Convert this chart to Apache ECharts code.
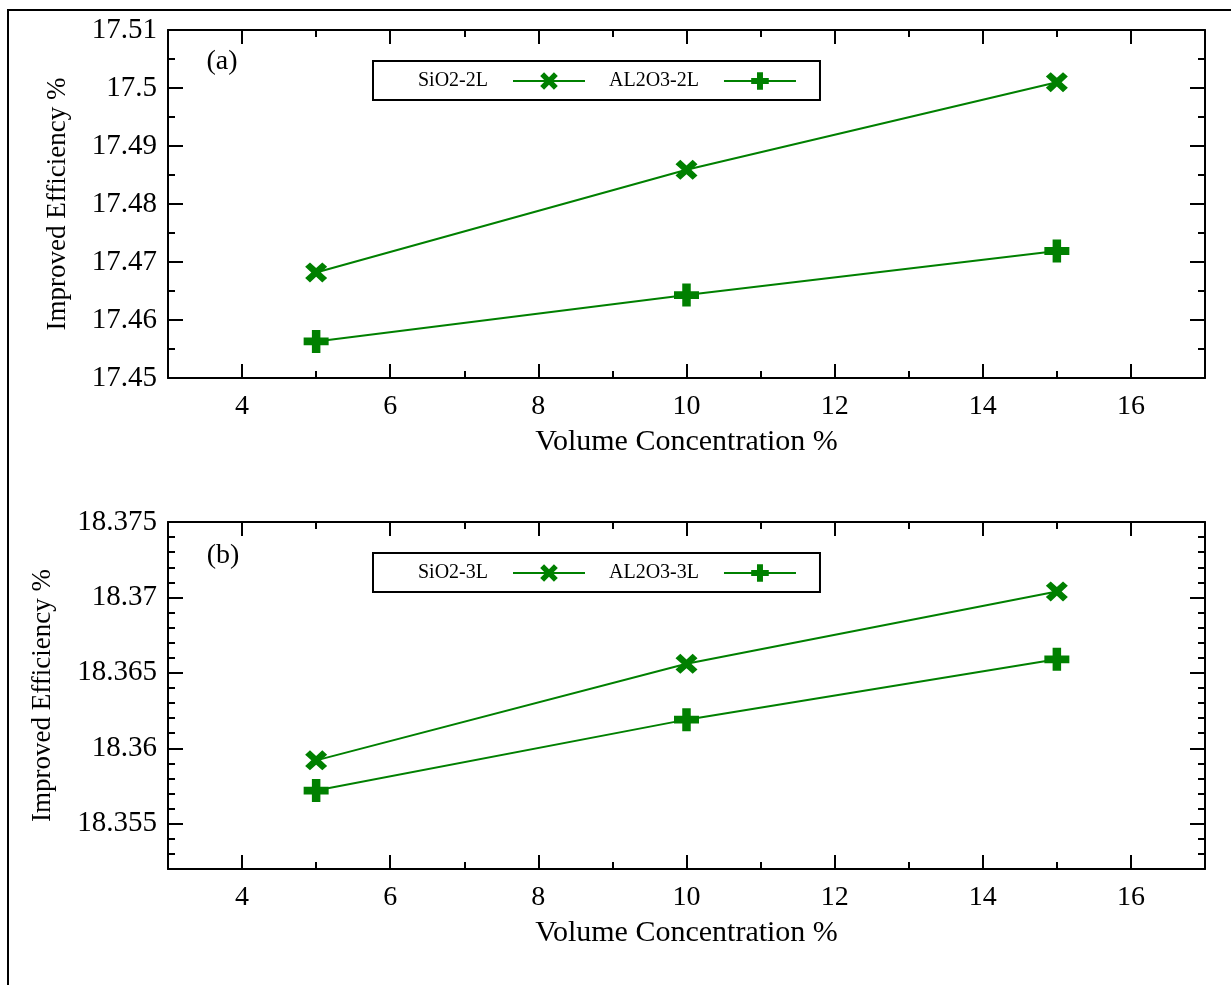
<!DOCTYPE html>
<html>
<head>
<meta charset="utf-8">
<script src="https://cdn.jsdelivr.net/npm/echarts@6/dist/echarts.min.js"></script>
<style>
  html, body { margin: 0; padding: 0; background: #fff; }
  #chart { width: 1231px; height: 985px; }
</style>
</head>
<body>
<div id="chart"></div>
<script>
// Volume concentration (%) of the nanofluid
const concentration = [5, 10, 15];

// Panel (a): two-layer configuration, improved efficiency (%)
const sio2TwoLayer = [17.4682, 17.4859, 17.5010];
const al2o3TwoLayer = [17.4563, 17.4643, 17.4719];

// Panel (b): three-layer configuration, improved efficiency (%)
const sio2ThreeLayer = [18.3592, 18.3656, 18.3704];
const al2o3ThreeLayer = [18.3572, 18.3619, 18.3659];

// Tick labels
const xTickLabels = [4, 6, 8, 10, 12, 14, 16];
const yTickLabelsB = [18.355, 18.36, 18.365, 18.37, 18.375];

const seriesNamesA = ['SiO2-2L', 'AL2O3-2L'];
const seriesNamesB = ['SiO2-3L', 'AL2O3-3L'];

const GREEN = '#008000';
const FONT = '"Liberation Serif", "Times New Roman", serif';
const CROSS = 'path://M0,22L22,0L50,28L78,0L100,22L72,50L100,78L78,100L50,72L22,100L0,78L28,50Z';
const PLUS = 'path://M33,0H67V33H100V67H67V100H33V67H0V33H33Z';

const fmt = v => String(parseFloat(Number(v).toFixed(4)));
const black = { color: '#000', width: 2 };

function xAxes(grid) {
  const base = { type: 'value', gridIndex: grid, min: 3, max: 17, splitLine: { show: false } };
  return [
    Object.assign({}, base, {
      position: 'bottom',
      axisLine: { show: true, onZero: false, lineStyle: black },
      axisTick: { show: true, inside: true, length: 14, customValues: xTickLabels, lineStyle: black },
      axisLabel: { customValues: xTickLabels, color: '#000', fontFamily: FONT, fontSize: 28, margin: 15, formatter: fmt },
      name: 'Volume Concentration %', nameLocation: 'middle', nameGap: 49,
      nameTextStyle: { color: '#000', fontFamily: FONT, fontSize: 30 }
    }),
    Object.assign({}, base, {
      position: 'bottom', interval: 1,
      axisLine: { show: false, onZero: false },
      axisTick: { show: true, inside: true, length: 7, lineStyle: black },
      axisLabel: { show: false }
    }),
    Object.assign({}, base, {
      position: 'top',
      axisLine: { show: true, onZero: false, lineStyle: black },
      axisTick: { show: true, inside: true, length: 14, customValues: xTickLabels, lineStyle: black },
      axisLabel: { show: false }
    }),
    Object.assign({}, base, {
      position: 'top', interval: 1,
      axisLine: { show: false, onZero: false },
      axisTick: { show: true, inside: true, length: 7, lineStyle: black },
      axisLabel: { show: false }
    })
  ];
}

const yName = {
  name: 'Improved Efficiency %', nameLocation: 'middle',
  nameTextStyle: { color: '#000', fontFamily: FONT, fontSize: 27 }
};
const yLabel = { color: '#000', fontFamily: FONT, fontSize: 29, margin: 11, formatter: fmt };

// Panel (a) y axes: 17.45 – 17.51, major every 0.01 with one minor tick between
const yAxesA = [
  Object.assign({
    type: 'value', gridIndex: 0, position: 'left', min: 17.45, max: 17.51, interval: 0.01,
    axisLine: { show: true, onZero: false, lineStyle: black },
    axisTick: { show: true, inside: true, length: 15, lineStyle: black },
    minorTick: { show: true, splitNumber: 2, length: 7, lineStyle: black },
    axisLabel: yLabel, splitLine: { show: false }, nameGap: 97
  }, yName),
  {
    type: 'value', gridIndex: 0, position: 'right', min: 17.45, max: 17.51, interval: 0.01,
    axisLine: { show: true, onZero: false, lineStyle: black },
    axisTick: { show: true, inside: true, length: 15, lineStyle: black },
    minorTick: { show: true, splitNumber: 2, length: 7, lineStyle: black },
    axisLabel: { show: false }, splitLine: { show: false }
  }
];

// Panel (b) y axes: 18.352 – 18.375, labels every 0.005, minor ticks every 0.001
function yAxesB() {
  const base = { type: 'value', gridIndex: 1, min: 18.352, max: 18.375, splitLine: { show: false } };
  const list = [];
  ['left', 'right'].forEach(pos => {
    list.push(Object.assign({}, base, {
      position: pos,
      axisLine: { show: true, onZero: false, lineStyle: black },
      axisTick: { show: true, inside: true, length: 15, customValues: yTickLabelsB, lineStyle: black },
      axisLabel: pos === 'left' ? Object.assign({ customValues: yTickLabelsB }, yLabel) : { show: false }
    }, pos === 'left' ? Object.assign({ nameGap: 112 }, yName) : {}));
    list.push(Object.assign({}, base, {
      position: pos, interval: 0.001,
      axisLine: { show: false, onZero: false },
      axisTick: { show: true, inside: true, length: 7, lineStyle: black },
      axisLabel: { show: false }
    }));
  });
  return list;
}

function lineSeries(name, values, symbol, size, xIdx, yIdx) {
  return {
    type: 'line', name: name, xAxisIndex: xIdx, yAxisIndex: yIdx,
    data: concentration.map((x, i) => [x, values[i]]),
    symbol: symbol, symbolSize: size, showAllSymbol: true,
    lineStyle: { color: GREEN, width: 2 },
    itemStyle: { color: GREEN },
    emphasis: { disabled: true },
    z: 3
  };
}

function legend(top, names) {
  return {
    left: 373, top: top, orient: 'horizontal', align: 'right',
    data: names, selectedMode: false,
    itemWidth: 72, itemHeight: 22, itemGap: 23,
    padding: [10, 23, 9, 45],
    borderColor: '#000', borderWidth: 2, backgroundColor: '#fff',
    textStyle: { color: '#000', fontFamily: FONT, fontSize: 20, padding: [0, 20, 0, 0] }
  };
}

const chart = echarts.init(document.getElementById('chart'), null, { renderer: 'canvas' });
chart.setOption({
  backgroundColor: '#fff',
  animation: false,
  grid: [
    { left: 168, top: 30, right: 26, height: 348 },
    { left: 168, top: 522, right: 26, height: 347 }
  ],
  xAxis: xAxes(0).concat(xAxes(1)),
  yAxis: yAxesA.concat(yAxesB()),
  legend: [legend(61, seriesNamesA), legend(553, seriesNamesB)],
  series: [
    lineSeries(seriesNamesA[0], sio2TwoLayer, CROSS, [22, 20], 0, 0),
    lineSeries(seriesNamesA[1], al2o3TwoLayer, PLUS, [25, 23], 0, 0),
    lineSeries(seriesNamesB[0], sio2ThreeLayer, CROSS, [22, 20], 4, 2),
    lineSeries(seriesNamesB[1], al2o3ThreeLayer, PLUS, [25, 23], 4, 2)
  ],
  graphic: [
    { type: 'rect', silent: true, shape: { x: 8, y: 10, width: 1400, height: 1200 },
      style: { fill: 'none', stroke: '#000', lineWidth: 2 } },
    { type: 'text', silent: true, style: { text: '(a)', x: 222, y: 62, align: 'center', verticalAlign: 'middle',
      font: '28px ' + FONT, fill: '#000' } },
    { type: 'text', silent: true, style: { text: '(b)', x: 223, y: 556, align: 'center', verticalAlign: 'middle',
      font: '28px ' + FONT, fill: '#000' } }
  ]
});
</script>
</body>
</html>
